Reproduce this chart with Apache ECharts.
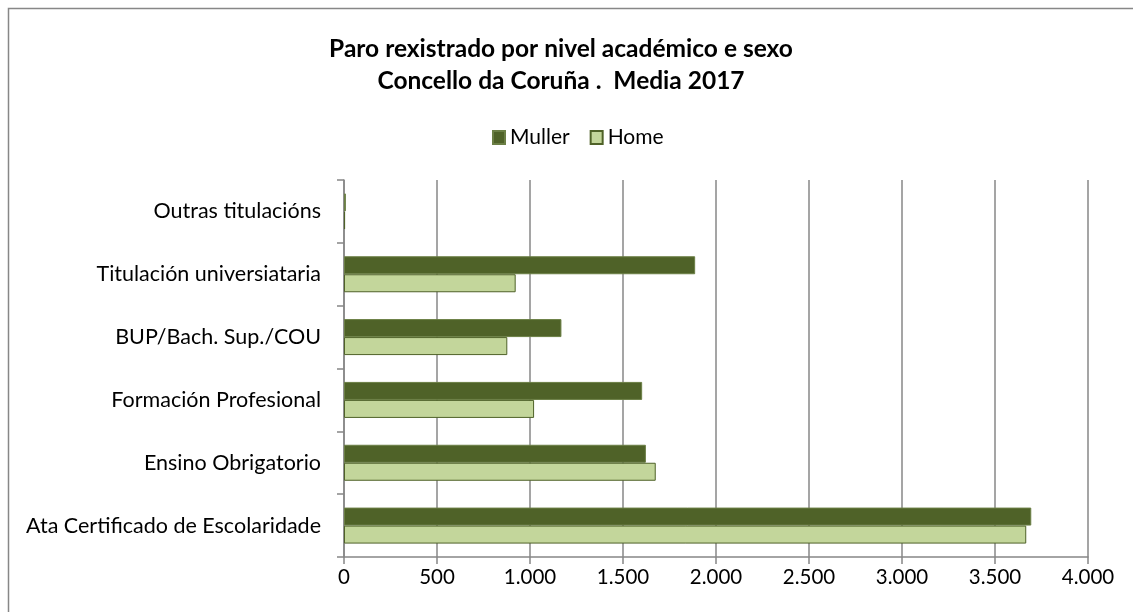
<!DOCTYPE html>
<html>
<head>
<meta charset="utf-8">
<script src="https://cdn.jsdelivr.net/npm/echarts@6/dist/echarts.min.js"></script>
<style>
  html, body { margin: 0; padding: 0; background: #fff; }
  #main { width: 1133px; height: 612px; }
</style>
</head>
<body>
<div id="main"></div>
<script>
  // categories from the bottom of the chart upwards
  var categories = [
    'Ata Certificado de Escolaridade',
    'Ensino Obrigatorio',
    'Formación Profesional',
    'BUP/Bach. Sup./COU',
    'Titulación universiataria',
    'Outras titulacións'
  ];
  var muller = [3695, 1623, 1603, 1169, 1888, 10];
  var home = [3668, 1676, 1022, 878, 923, 6];
  var xTicks = [0, 500, 1000, 1500, 2000, 2500, 3000, 3500, 4000];

  var FONT = 'Lato';
  var GRAY = '#878787';

  var myChart = echarts.init(document.getElementById('main'));

  var fmt = function(v) {
    return String(v).replace(/\B(?=(\d{3})+(?!\d))/g, '.');
  };

  var option = {
    animation: false,
    textStyle: { fontFamily: FONT, color: '#000' },
    graphic: [{
      type: 'rect',
      shape: { x: 8.5, y: 8.5, width: 1140, height: 620 },
      style: { fill: 'none', stroke: GRAY, lineWidth: 1.5 },
      silent: true
    }],
    title: {
      text: 'Paro rexistrado por nivel académico e sexo\nConcello da Coruña .  Media 2017',
      left: 556,
      textAlign: 'center',
      top: 28,
      textStyle: {
        fontFamily: FONT,
        fontWeight: 'bold',
        fontSize: 24.5,
        lineHeight: 32,
        color: '#000'
      }
    },
    legend: {
      data: [
        { name: 'Muller', icon: 'rect' },
        { name: 'Home', icon: 'rect' }
      ],
      left: 487,
      top: 122,
      itemWidth: 12,
      itemHeight: 13,
      itemGap: 20,
      textStyle: { fontFamily: FONT, fontSize: 21, color: '#000' }
    },
    grid: {
      left: 344,
      right: 45,
      top: 180,
      bottom: 55,
      containLabel: false
    },
    xAxis: {
      type: 'value',
      min: xTicks[0],
      max: xTicks[xTicks.length - 1],
      interval: 500,
      axisLine: { show: true, lineStyle: { color: GRAY, width: 1.5 } },
      axisTick: { show: true, length: 7, lineStyle: { color: GRAY, width: 1.5 } },
      splitLine: { show: true, lineStyle: { color: GRAY, width: 1.5 } },
      axisLabel: {
        fontFamily: FONT,
        fontSize: 20.5,
        color: '#000',
        margin: 10,
        formatter: fmt
      }
    },
    yAxis: {
      type: 'category',
      data: categories,
      axisLine: { show: true, lineStyle: { color: GRAY, width: 1.5 } },
      axisTick: { show: true, length: 7, lineStyle: { color: GRAY, width: 1.5 } },
      splitLine: { show: false },
      axisLabel: {
        fontFamily: FONT,
        fontSize: 21.5,
        color: '#000',
        margin: 23
      }
    },
    series: [{
      name: 'Muller',
      type: 'bar',
      data: muller,
      barWidth: 18,
      barGap: '0%',
      itemStyle: { color: '#4F6228', borderColor: '#6b7f45', borderWidth: 1 }
    }, {
      name: 'Home',
      type: 'bar',
      data: home,
      barWidth: 18,
      barGap: '0%',
      itemStyle: { color: '#C3D69B', borderColor: '#4F6228', borderWidth: 1 }
    }]
  };

  myChart.setOption(option);
</script>
</body>
</html>
